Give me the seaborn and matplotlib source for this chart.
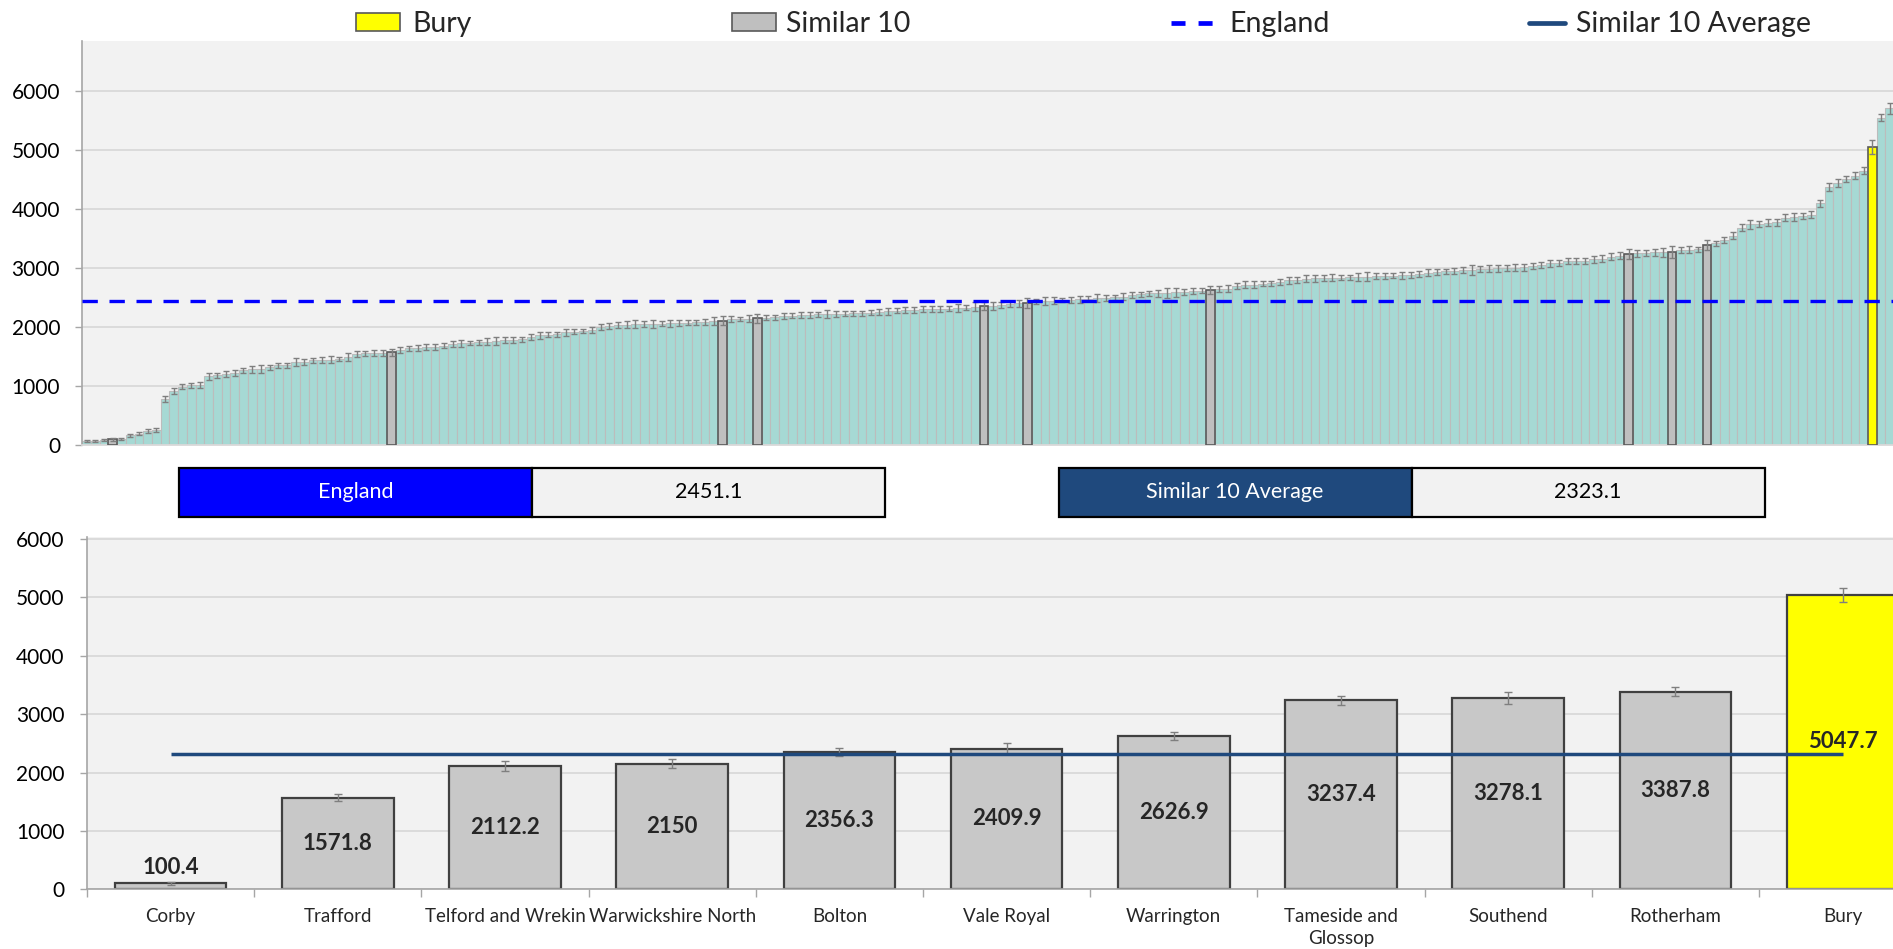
import numpy as np
import pandas as pd
import matplotlib
matplotlib.use("Agg")
import matplotlib.pyplot as plt
import seaborn as sns
from matplotlib import font_manager
from matplotlib.patches import Rectangle, Patch
from matplotlib.lines import Line2D

# ---------------------------------------------------------------- data
# Rates for every area, sorted ascending (rank 0 = lowest)
rates = [
    68, 80, 85, 100.4, 110, 170, 197, 243, 254, 784,
    914, 993, 1015, 1021, 1168, 1185, 1208, 1219, 1270, 1287,
    1292, 1321, 1354, 1356, 1411, 1416, 1440, 1448, 1452, 1462,
    1490, 1546, 1555, 1560, 1565, 1571.8, 1614, 1640, 1655, 1660,
    1665, 1687, 1716, 1727, 1730, 1744, 1755, 1760, 1783, 1789,
    1792, 1840, 1862, 1874, 1876, 1913, 1924, 1936, 1953, 2009,
    2015, 2037, 2045, 2050, 2052, 2054, 2060, 2065, 2077, 2078,
    2082, 2094, 2105, 2112.2, 2133, 2140, 2145, 2150, 2160, 2167,
    2184, 2195, 2206, 2208, 2218, 2220, 2222, 2228, 2232, 2235,
    2246, 2263, 2269, 2280, 2286, 2291, 2302, 2308, 2310, 2314,
    2319, 2331, 2348, 2356.3, 2359, 2376, 2393, 2404, 2409.9, 2432,
    2438, 2444, 2460, 2462, 2472, 2483, 2489, 2494, 2506, 2517,
    2545, 2556, 2573, 2574, 2576, 2590, 2596, 2613, 2620, 2626.9,
    2647, 2652, 2697, 2720, 2722, 2737, 2740, 2765, 2793, 2799,
    2822, 2827, 2833, 2835, 2839, 2844, 2855, 2857, 2859, 2867,
    2870, 2878, 2884, 2900, 2923, 2940, 2946, 2952, 2968, 2970,
    2985, 2991, 2997, 3002, 3008, 3014, 3042, 3053, 3081, 3087,
    3121, 3123, 3126, 3149, 3160, 3194, 3211, 3237.4, 3250, 3258,
    3265, 3270, 3278.1, 3307, 3310, 3318, 3387.8, 3420, 3476, 3550,
    3685, 3742, 3747, 3770, 3775, 3854, 3860, 3883, 3905, 4097,
    4368, 4436, 4509, 4565, 4650, 5047.7, 5547, 5705,
]

# Half-width of the 95% confidence interval for each area
ci_half = [
    15, 18, 18, 25, 20, 22, 30, 28, 35, 55,
    50, 45, 40, 45, 60, 40, 55, 50, 45, 60,
    65, 40, 45, 45, 60, 50, 45, 55, 60, 40,
    65, 45, 40, 55, 45, 57, 50, 45, 50, 50,
    55, 40, 50, 55, 40, 45, 60, 70, 45, 50,
    45, 50, 60, 45, 40, 55, 45, 40, 45, 50,
    50, 55, 60, 70, 55, 70, 45, 55, 50, 40,
    45, 50, 75, 80, 50, 40, 55, 75, 40, 45,
    50, 45, 55, 45, 45, 70, 55, 45, 45, 40,
    40, 50, 55, 45, 50, 45, 50, 50, 50, 45,
    70, 45, 70, 70, 60, 55, 45, 60, 90, 45,
    65, 60, 40, 50, 55, 40, 70, 50, 45, 55,
    50, 45, 45, 55, 80, 75, 55, 45, 45, 70,
    55, 55, 50, 55, 55, 45, 40, 50, 55, 50,
    60, 55, 55, 60, 45, 45, 70, 70, 50, 45,
    45, 55, 45, 50, 55, 50, 45, 45, 55, 90,
    45, 55, 55, 55, 60, 55, 50, 55, 60, 55,
    55, 55, 50, 55, 55, 55, 55, 80, 55, 45,
    60, 75, 100, 45, 60, 40, 80, 45, 50, 55,
    55, 80, 45, 55, 55, 60, 65, 55, 55, 55,
    70, 70, 45, 55, 60, 120, 55, 90,
]

similar_names = ["Corby", "Trafford", "Telford and Wrekin", "Warwickshire North",
                 "Bolton", "Vale Royal", "Warrington", "Tameside and\nGlossop",
                 "Southend", "Rotherham"]
similar_rank = [3, 35, 73, 77, 103, 108, 129, 177, 182, 186]
focus_name = "Bury"
focus_rank = 205

england_value = 2451.1
similar_avg = 2323.1

# ---------------------------------------------------------------- style
sns.set_style("white")
available = {f.name for f in font_manager.fontManager.ttflist}
base_font = next(f for f in ["Lato", "Open Sans", "DejaVu Sans"] if f in available)
plt.rcParams["font.family"] = [base_font, "DejaVu Sans"]

C_TEAL = "#a6d9d4"
C_GREY = "#bfbfbf"
C_GREY_B = "#c8c8c8"
C_YELLOW = "#ffff00"
C_ENG = "#0000ff"
C_AVG = "#1f497d"
C_PANEL = "#f2f2f2"
C_GRID = "#d9d9d9"
C_AXIS = "#a6a6a6"

W, H = 1893, 949
fig = plt.figure(figsize=(W / 100, H / 100), dpi=100)
fig.patch.set_facecolor("white")


def px_box(left, top, right, bottom):
    return [left / W, 1 - bottom / H, (right - left) / W, (bottom - top) / H]


def style_axes(ax, ymax):
    ax.set_facecolor(C_PANEL)
    ax.set_ylim(0, ymax)
    ax.set_yticks(range(0, 6001, 1000))
    ax.yaxis.grid(True, color=C_GRID, lw=1.3)
    ax.set_axisbelow(True)
    for side in ("top", "right"):
        ax.spines[side].set_visible(False)
    ax.spines["left"].set_color(C_AXIS)
    ax.spines["left"].set_linewidth(1.2)
    ax.spines["bottom"].set_color(C_GRID)
    ax.spines["bottom"].set_linewidth(1.3)
    ax.tick_params(axis="y", which="major", direction="out", length=5,
                   width=1.0, color=C_AXIS, labelsize=15, pad=11,
                   labelcolor="black", left=True)
    ax.set_xlabel("")
    ax.set_ylabel("")


# ---------------------------------------------------------------- all areas
n = len(rates)
groups = ["Other"] * n
for r in similar_rank:
    groups[r] = "Similar 10"
groups[focus_rank] = focus_name

all_df = pd.DataFrame({"rank": np.arange(n), "rate": rates, "group": groups})
palette_all = {"Other": C_TEAL, "Similar 10": C_GREY, focus_name: C_YELLOW}

pitch = 8.711
ax_top = fig.add_axes(px_box(82.3, 41, 82.3 + n * pitch, 445.3))
sns.barplot(data=all_df, x="rank", y="rate", hue="group",
            hue_order=["Other", "Similar 10", focus_name],
            palette=palette_all, dodge=False, width=1.0, saturation=1,
            errorbar=None, legend=False, ax=ax_top)
for p in ax_top.patches:
    idx = int(round(p.get_x() + p.get_width() / 2))
    if 0 <= idx < n and groups[idx] != "Other":
        p.set_edgecolor("#5a5a5a")
        p.set_linewidth(1.2)
        p.set_zorder(3)
    else:
        p.set_edgecolor("#bcbcbc")
        p.set_linewidth(0.8)
ax_top.errorbar(np.arange(n), rates, yerr=ci_half, fmt="none",
                ecolor="#7f7f7f", elinewidth=1.0, capsize=1.9, capthick=1.0,
                zorder=4)
ax_top.axhline(england_value, color=C_ENG, lw=2.4, dashes=(4.6, 3.5), zorder=5)
ax_top.set_xlim(-0.5, n - 0.5)
style_axes(ax_top, 6845)
ax_top.set_xticks([])

# ---------------------------------------------------------------- legend
LEG_FS = 20.5
k = 18.3 / LEG_FS
legend_items = [
    (Patch(facecolor=C_YELLOW, edgecolor="#595959", lw=1.2, label=focus_name),
     356, 1.73 * k, 0.68 * k, 0.47 * k),
    (Patch(facecolor=C_GREY, edgecolor="#595959", lw=1.2, label="Similar 10"),
     731.7, 1.73 * k, 0.68 * k, 0.42 * k),
    (Line2D([], [], color=C_ENG, lw=3.4, dashes=(2.97, 2.76), label="England"),
     1171, 1.65 * k, 0.7 * k, 0.63 * k),
    (Line2D([], [], color=C_AVG, lw=3.4, label="Similar 10 Average"),
     1528.7, 1.42 * k, 0.7 * k, 0.46 * k),
]
for handle, x0, hl, hh, tp in legend_items:
    fig.legend(handles=[handle], loc="center left",
               bbox_to_anchor=(x0 / W, 1 - 24.3 / H), frameon=False,
               fontsize=LEG_FS, handlelength=hl, handleheight=hh,
               handletextpad=tp, borderpad=0, borderaxespad=0)

# ---------------------------------------------------------------- value boxes
def value_box(x0, x1, x2, label, value, color):
    top, bottom = 467.7, 517.3
    for (a, b, fc) in ((x0, x1, color), (x1, x2, C_PANEL)):
        fig.add_artist(Rectangle((a / W, 1 - bottom / H), (b - a) / W,
                                 (bottom - top) / H, transform=fig.transFigure,
                                 facecolor=fc, edgecolor="black", lw=1.6))
    yc = 1 - (top + bottom) / 2 / H
    fig.text((x0 + x1) / 2 / W, yc, label, color="white", fontsize=15.5,
             ha="center", va="center")
    fig.text((x1 + x2) / 2 / W, yc, f"{value:g}", color="black", fontsize=15.5,
             ha="center", va="center")


value_box(179, 532.3, 884.7, "England", england_value, C_ENG)
value_box(1058.5, 1411.5, 1764.7, "Similar 10 Average", similar_avg, C_AVG)

# ---------------------------------------------------------------- comparators
cmp_names = similar_names + [focus_name]
cmp_ranks = similar_rank + [focus_rank]
cmp_values = [rates[r] for r in cmp_ranks]
cmp_err = [ci_half[r] for r in cmp_ranks]
cmp_groups = ["Similar 10"] * len(similar_names) + [focus_name]
cmp_df = pd.DataFrame({"area": cmp_names, "rate": cmp_values, "group": cmp_groups})

cat_w = 167.2
ax_bot = fig.add_axes(px_box(87, 889.3 - 6.04 * 58.38, 87 + 11 * cat_w, 889.3))
sns.barplot(data=cmp_df, x="area", y="rate", hue="group",
            hue_order=["Similar 10", focus_name],
            palette={"Similar 10": C_GREY_B, focus_name: C_YELLOW},
            dodge=False, width=0.667, saturation=1, errorbar=None,
            legend=False, edgecolor="#404040", linewidth=1.6, ax=ax_bot)
xpos = np.arange(len(cmp_names))
ax_bot.errorbar(xpos, cmp_values, yerr=cmp_err, fmt="none", ecolor="#7f7f7f",
                elinewidth=1.0, capsize=2.9, capthick=1.0, zorder=4)
ax_bot.plot([xpos[0], xpos[-1]], [similar_avg, similar_avg], color=C_AVG,
            lw=2.5, zorder=5, solid_capstyle="butt")
for x, v, e in zip(xpos, cmp_values, cmp_err):
    if v < 600:
        ax_bot.text(x, v + e + 60, f"{v:g}", ha="center", va="bottom",
                    fontsize=16, fontweight="bold", zorder=6)
    else:
        ax_bot.text(x, v / 2, f"{v:g}", ha="center", va="center",
                    fontsize=16, fontweight="bold", zorder=6)

ax_bot.set_xlim(-0.5, len(cmp_names) - 0.5)
style_axes(ax_bot, 6040)
ax_bot.spines["bottom"].set_color(C_AXIS)
ax_bot.spines["bottom"].set_linewidth(1.2)
ax_bot.set_xticks(xpos)
ax_bot.set_xticklabels(cmp_names, fontsize=13.5, linespacing=1.35)
ax_bot.set_xticks(np.arange(-0.5, len(cmp_names), 1.0), minor=True)
ax_bot.tick_params(axis="x", which="major", length=0, pad=13.5, bottom=True)
ax_bot.tick_params(axis="x", which="minor", length=5.5, width=1.0,
                   color=C_AXIS, direction="out", bottom=True)

fig.savefig("out.png", dpi=100, facecolor="white")
